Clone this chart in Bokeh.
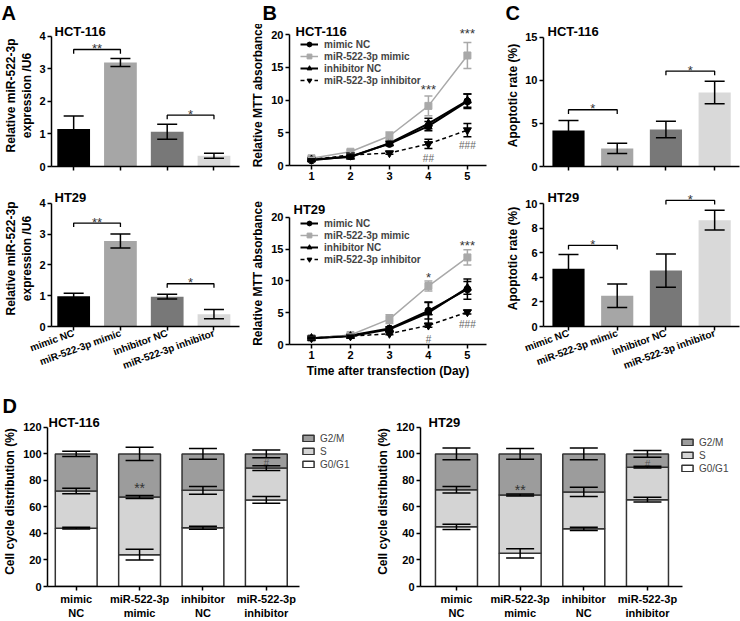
from bokeh.plotting import figure
from bokeh.layouts import column, row
from bokeh.models import ColumnDataSource, Whisker, TeeHead, Label, Legend, LegendItem
from bokeh.core.properties import value
from bokeh.embed import file_html
from bokeh.resources import INLINE

FONT = "Liberation Sans"

# ---------------- data ----------------
groups = ["mimic NC", "miR-522-3p mimic", "inhibitor NC", "miR-522-3p inhibitor"]
groups_two_line = ["mimic\nNC", "miR-522-3p\nmimic", "inhibitor\nNC", "miR-522-3p\ninhibitor"]
group_pos = [1, 2, 3, 4]
bar_colors = ["#000000", "#a6a6a6", "#787878", "#d9d9d9"]

# A: relative miR-522-3p expression / U6
a_hct_mean = [1.15, 3.20, 1.07, 0.33]
a_hct_err = [0.40, 0.12, 0.23, 0.08]
a_ht29_mean = [0.98, 2.78, 0.97, 0.40]
a_ht29_err = [0.10, 0.23, 0.08, 0.15]
a_hct_brackets = [(1, 2, 3.60, "**"), (3, 4, 1.58, "*")]
a_ht29_brackets = [(1, 2, 3.36, "**"), (3, 4, 1.39, "*")]

# B: MTT absorbance
days = [1, 2, 3, 4, 5]
b_hct_mimic_nc = [0.8, 1.4, 3.3, 6.0, 9.8]
b_hct_mimic_nc_err = [0.15, 0.2, 0.3, 0.7, 1.1]
b_hct_mimic = [1.1, 2.1, 4.5, 9.1, 16.8]
b_hct_mimic_err = [0.15, 0.25, 0.6, 1.5, 2.0]
b_hct_inh_nc = [0.9, 1.3, 3.4, 6.4, 9.9]
b_hct_inh_nc_err = [0.1, 0.2, 0.3, 0.8, 1.0]
b_hct_inh = [0.9, 1.6, 1.9, 3.3, 5.4]
b_hct_inh_err = [0.1, 0.15, 0.2, 0.7, 1.0]
b_hct_marks = [(4, 11.6, "***"), (5, 20.2, "***"), (4, 1.0, "##"), (5, 3.0, "###")]

b_ht29_mimic_nc = [1.0, 1.4, 2.5, 5.3, 8.7]
b_ht29_mimic_nc_err = [0.1, 0.15, 0.3, 1.3, 1.6]
b_ht29_mimic = [1.0, 1.5, 4.0, 9.2, 13.7]
b_ht29_mimic_err = [0.1, 0.15, 0.7, 0.8, 1.2]
b_ht29_inh_nc = [1.0, 1.3, 2.4, 5.0, 8.9]
b_ht29_inh_nc_err = [0.1, 0.15, 0.3, 1.7, 1.0]
b_ht29_inh = [1.0, 1.3, 1.7, 3.0, 5.1]
b_ht29_inh_err = [0.1, 0.1, 0.15, 0.3, 0.3]
b_ht29_marks = [(4, 10.6, "*"), (5, 15.6, "***"), (4, 0.8, "#"), (5, 3.2, "###")]

# C: apoptotic rate (%)
c_hct_mean = [4.2, 2.1, 4.3, 8.6]
c_hct_err = [1.15, 0.6, 0.95, 1.3]
c_ht29_mean = [4.7, 2.5, 4.55, 8.65]
c_ht29_err = [1.15, 0.95, 1.35, 0.8]
c_hct_brackets = [(1, 2, 6.6, "*"), (3, 4, 11.1, "*")]
c_ht29_brackets = [(1, 2, 6.6, "*"), (3, 4, 10.25, "*")]

# D: cell cycle distribution (%)
phases = ["G0/G1", "S", "G2/M"]
phase_colors = ["#ffffff", "#d4d4d4", "#9c9c9c"]
d_hct_g0 = [44.0, 24.0, 44.3, 65.3]
d_hct_g0_err = [0.6, 4.0, 1.2, 2.5]
d_hct_s = [28.0, 43.5, 28.2, 24.0]
d_hct_s_err = [2.0, 1.2, 3.0, 1.8]
d_hct_g2m = [28.0, 32.5, 27.5, 10.7]
d_hct_g2m_err = [2.0, 5.0, 4.0, 3.0]
d_hct_marks = [(2, 74, "**"), (4, 93, "#")]

d_ht29_g0 = [45.0, 25.0, 43.5, 65.5]
d_ht29_g0_err = [2.0, 3.5, 1.2, 1.8]
d_ht29_s = [28.0, 44.0, 27.8, 24.5]
d_ht29_s_err = [2.5, 0.8, 3.5, 0.6]
d_ht29_g2m = [27.0, 31.0, 28.7, 10.0]
d_ht29_g2m_err = [4.5, 4.0, 4.5, 2.5]
d_ht29_marks = [(2, 73, "**"), (4, 92, "#")]


# ---------------- helpers ----------------
def make_fig(width, height, mbl, mbr, mbt, mbb, xr, yr):
    p = figure(width=width, height=height, x_range=xr, y_range=yr, title=None,
               output_backend="svg", toolbar_location=None,
               min_border_left=mbl, min_border_right=mbr,
               min_border_top=mbt, min_border_bottom=mbb)
    p.outline_line_color = None
    p.grid.visible = False
    p.background_fill_color = "white"
    p.border_fill_color = "white"
    for ax in (p.xaxis[0], p.yaxis[0]):
        ax.axis_line_width = 1.5
        ax.axis_line_color = "black"
        ax.major_tick_line_width = 1.5
        ax.major_tick_line_color = "black"
        ax.major_tick_in = 0
        ax.major_tick_out = 4
        ax.minor_tick_line_color = None
        ax.major_label_text_font = FONT
        ax.major_label_text_font_style = "bold"
        ax.major_label_text_font_size = "11px"
        ax.major_label_text_color = "black"
        ax.major_label_standoff = 2
        ax.axis_label_text_font = FONT
        ax.axis_label_text_font_style = "bold"
        ax.axis_label_text_font_size = "12px"
        ax.axis_label_text_color = "black"
        ax.axis_label_standoff = 3
    return p


def add_label(p, x, y, text, size, baseline="middle"):
    p.add_layout(Label(x=x, y=y, x_units="screen", y_units="screen", text=text,
                       text_font=FONT, text_font_style="bold", text_font_size=size,
                       text_color="black", text_align="left", text_baseline=baseline))


def letter_strip(width, height, letters, y):
    p = figure(width=width, height=height, x_range=(0, width), y_range=(0, height), title=None,
               output_backend="svg", toolbar_location=None,
               x_axis_location=None, y_axis_location=None, min_border=0)
    p.outline_line_color = None
    p.grid.visible = False
    p.background_fill_color = "white"
    p.border_fill_color = "white"
    for t, x in letters:
        add_label(p, x, y, t, "20px")
    return p


def add_whiskers(p, xs, centers, errs, head, color="black", lw=1.5):
    src = ColumnDataSource(dict(x=xs, upper=[c + e for c, e in zip(centers, errs)],
                                lower=[c - e for c, e in zip(centers, errs)]))
    w = Whisker(base="x", upper="upper", lower="lower", source=src,
                line_width=lw, line_color=color, level="overlay",
                upper_head=TeeHead(size=head, line_width=lw, line_color=color),
                lower_head=TeeHead(size=head, line_width=lw, line_color=color))
    p.add_layout(w)


def add_texts(p, marks, size, color="#333333", baseline="alphabetic"):
    if not marks:
        return
    p.text(x=[m[0] for m in marks], y=[m[1] for m in marks], text=[m[2] for m in marks],
           text_align="center", text_baseline=baseline, text_font=value(FONT),
           text_font_size=size, text_color=color)


def add_brackets(p, brackets, depth):
    for x1, x2, y, lab in brackets:
        p.line([x1, x1, x2, x2], [y - depth, y, y, y - depth], line_color="black", line_width=1.3)
    add_texts(p, [((b[0] + b[1]) / 2, b[2] + depth * 0.2, b[3]) for b in brackets], "13px")


def bar_panel(width, height, borders, xr, yr, ybound, yticks, means, errs, brackets, depth,
              ylabel, show_labels, bar_w):
    p = make_fig(width, height, *borders, xr, yr)
    src = ColumnDataSource(dict(x=group_pos, top=means, color=bar_colors))
    p.vbar(x="x", top="top", width=bar_w, fill_color="color", line_color=None, source=src)
    add_whiskers(p, group_pos, means, errs, 20)
    add_brackets(p, brackets, depth)
    p.yaxis.bounds = ybound
    p.yaxis.ticker = yticks
    p.yaxis.axis_label = ylabel
    p.yaxis.axis_label_standoff = 2
    p.xaxis.ticker = group_pos
    if show_labels:
        p.xaxis.major_label_overrides = {k: v for k, v in zip(group_pos, groups)}
        p.xaxis.major_label_orientation = 0.35
        p.xaxis.major_label_text_font_size = "10px"
    else:
        p.xaxis.major_label_text_color = None
    return p


def line_panel(width, height, borders, yr, series, marks, show_xlabel, legend_loc):
    p = make_fig(width, height, *borders, (0.436, 5.49), yr)
    for name, ys, errs, color, marker, size, dash, lw in series:
        p.line(days, ys, line_color=color, line_width=lw, line_dash=dash, legend_label=name)
        p.scatter(days, ys, marker=marker, size=size, fill_color=color, line_color=color,
                  legend_label=name)
        add_whiskers(p, days, ys, errs, 8, color=color, lw=1.5)
    add_texts(p, [m for m in marks if "*" in m[2]], "13px", "#333333")
    add_texts(p, [m for m in marks if "#" in m[2]], "10px", "#666666")
    p.yaxis.bounds = (0, 20)
    p.yaxis.ticker = [0, 5, 10, 15, 20]
    p.xaxis.ticker = days
    p.yaxis.axis_label = "Relative MTT absorbance"
    if show_xlabel:
        p.xaxis.axis_label = "Time after transfection (Day)"
        p.xaxis.axis_label_standoff = 2
    lg = p.legend[0]
    lg.location = legend_loc
    lg.background_fill_alpha = 0
    lg.border_line_color = None
    lg.padding = 0
    lg.margin = 0
    lg.spacing = 0
    lg.glyph_width = 18
    lg.glyph_height = 12
    lg.label_height = 12
    lg.label_standoff = 6
    lg.label_text_font = FONT
    lg.label_text_font_style = "bold"
    lg.label_text_font_size = "10px"
    return p


def stack_panel(width, height, borders, xr, yr, xbound, g0, g0e, s, se, g2, g2e, marks, legend_loc):
    p = make_fig(width, height, *borders, xr, yr)
    src = ColumnDataSource(dict(x=group_pos, g0=g0, s=s, g2=g2))
    rs = p.vbar_stack(["g0", "s", "g2"], x="x", width=0.66, source=src,
                      fill_color=phase_colors, line_color="#333333", line_width=1.5)
    top0 = g0
    top1 = [a + b for a, b in zip(g0, s)]
    top2 = [a + b + c for a, b, c in zip(g0, s, g2)]
    add_whiskers(p, group_pos, top0, g0e, 28)
    add_whiskers(p, group_pos, top1, se, 28)
    add_whiskers(p, group_pos, top2, g2e, 28)
    add_texts(p, [m for m in marks if "*" in m[2]], "14px", "#333333")
    add_texts(p, [m for m in marks if "#" in m[2]], "10px", "#555555")
    p.yaxis.bounds = (0, 120)
    p.yaxis.ticker = [0, 20, 40, 60, 80, 100, 120]
    p.yaxis.axis_label = "Cell cycle distribution (%)"
    p.xaxis.bounds = xbound
    p.xaxis.ticker = group_pos
    p.xaxis.major_label_overrides = {k: v for k, v in zip(group_pos, groups_two_line)}
    items = [LegendItem(label=phases[i], renderers=[rs[i]]) for i in (2, 1, 0)]
    lg = Legend(items=items, location=legend_loc, background_fill_alpha=0,
                border_line_color=None, padding=0, margin=0, spacing=1,
                glyph_width=14, glyph_height=8, label_height=12, label_standoff=5,
                label_text_font=FONT, label_text_font_size="10px")
    p.add_layout(lg)
    return p


# ---------------- panels ----------------
strip1 = letter_strip(740, 24, [("A", 1), ("B", 262), ("C", 505)], 12)

a1 = bar_panel(240, 166, (44, 1, 0, 24), (0.526, 4.546), (0, 4.369), (0, 4), [0, 1, 2, 3, 4],
               a_hct_mean, a_hct_err, a_hct_brackets, 0.13,
               "Relative miR-522-3p\nexpression /U6", False, 0.70)
add_label(a1, 3, 135, "HCT-116", "13px")

black = "#000000"
grey = "#a9a9a9"
hct_series = [
    ("mimic NC", b_hct_mimic_nc, b_hct_mimic_nc_err, black, "circle", 7, "solid", 2),
    ("miR-522-3p mimic", b_hct_mimic, b_hct_mimic_err, grey, "square", 7, "solid", 1.5),
    ("inhibitor NC", b_hct_inh_nc, b_hct_inh_nc_err, black, "triangle", 8, "solid", 2),
    ("miR-522-3p inhibitor", b_hct_inh, b_hct_inh_err, black, "inverted_triangle", 8, "4 3", 1.5),
]
ht29_series = [
    ("mimic NC", b_ht29_mimic_nc, b_ht29_mimic_nc_err, black, "circle", 7, "solid", 2),
    ("miR-522-3p mimic", b_ht29_mimic, b_ht29_mimic_err, grey, "square", 7, "solid", 1.5),
    ("inhibitor NC", b_ht29_inh_nc, b_ht29_inh_nc_err, black, "triangle", 8, "solid", 2),
    ("miR-522-3p inhibitor", b_ht29_inh, b_ht29_inh_err, black, "inverted_triangle", 8, "4 3", 1.5),
]
b1 = line_panel(248, 166, (49, 2, 0, 25), (0, 21.53), hct_series, b_hct_marks, False, (11, 79))
add_label(b1, 6, 134, "HCT-116", "13px")

c1 = bar_panel(252, 166, (55, 1, 0, 24), (0.487, 4.51), (0, 16.51), (0, 15), [0, 5, 10, 15],
               c_hct_mean, c_hct_err, c_hct_brackets, 0.5, "Apoptotic rate (%)", False, 0.66)
add_label(c1, 4, 135, "HCT-116", "13px")

a2 = bar_panel(240, 190, (44, 1, 0, 54), (0.526, 4.546), (0, 4.42), (0, 4), [0, 1, 2, 3, 4],
               a_ht29_mean, a_ht29_err, a_ht29_brackets, 0.13,
               "Relative miR-522-3p\nexpression /U6", True, 0.70)
add_label(a2, 3, 129, "HT29", "13px")

b2 = line_panel(248, 190, (49, 2, 12, 35), (0, 22.34), ht29_series, b_ht29_marks, True, (11, 79))
add_label(b2, 4, 135, "HT29", "13px")

c2 = bar_panel(252, 190, (55, 1, 0, 54), (0.487, 4.51), (0, 11.06), (0, 10), [0, 2, 4, 6, 8, 10],
               c_ht29_mean, c_ht29_err, c_ht29_brackets, 0.33, "Apoptotic rate (%)", True, 0.66)
add_label(c2, 4, 129, "HT29", "13px")

strip2 = letter_strip(370, 36, [("D", 2)], 11)

d1 = stack_panel(370, 205, (44, 18, 0, 33), (0.547, 5.36), (0, 128.2), (0.547, 4.52),
                 d_hct_g0, d_hct_g0_err, d_hct_s, d_hct_s_err, d_hct_g2m, d_hct_g2m_err,
                 d_hct_marks, (254, 116))
add_label(d1, 1, 164, "HCT-116", "13px")

d2 = stack_panel(370, 241, (50, 2, 36, 33), (0.435, 5.43), (0, 128.2), (0.435, 4.55),
                 d_ht29_g0, d_ht29_g0_err, d_ht29_s, d_ht29_s_err, d_ht29_g2m, d_ht29_g2m_err,
                 d_ht29_marks, (260, 112))
add_label(d2, 8, 164, "HT29", "13px")

layout = column(
    row(strip1),
    row(column(a1), column(b1), column(c1)),
    row(column(a2), column(b2), column(c2)),
    row(column(row(strip2), row(d1)), column(d2)),
)
open("out.html", "w").write(file_html(layout, INLINE))
